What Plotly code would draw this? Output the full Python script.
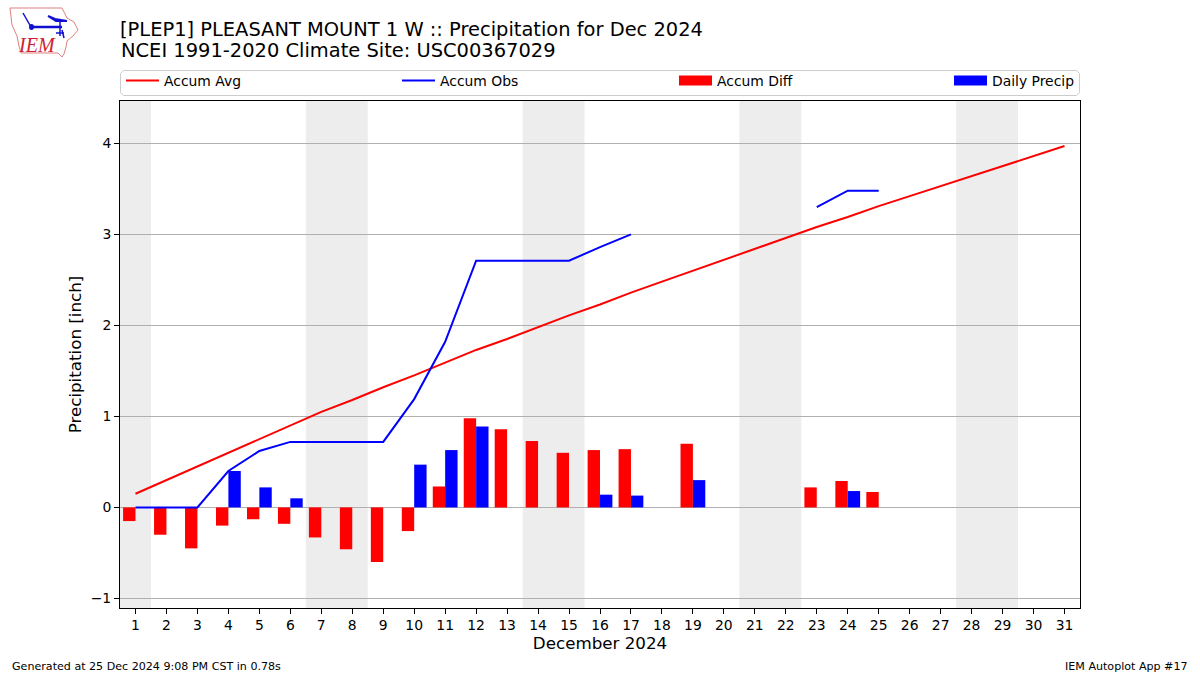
import plotly.graph_objects as go

days = list(range(1, 32))
accum_avg = [0.15,0.30,0.45,0.60,0.75,0.90,1.05,1.18,1.32,1.45,1.59,1.73,1.85,1.98,2.11,2.23,2.36,2.48,2.60,2.72,2.84,2.96,3.08,3.19,3.31,3.42,3.53,3.64,3.75,3.86,3.97]
accum_obs = [0,0,0,0.40,0.62,0.72,0.72,0.72,0.72,1.19,1.82,2.71,2.71,2.71,2.71,2.86,3.00,None,None,None,None,None,3.30,3.48,3.48,None,None,None,None,None,None]
accum_diff = [-0.15,-0.30,-0.45,-0.20,-0.13,-0.18,-0.33,-0.46,-0.60,-0.26,0.23,0.98,0.86,0.73,0.60,0.63,0.64,None,0.70,None,None,None,0.22,0.29,0.17,None,None,None,None,None,None]
daily = [0,0,0,0.40,0.22,0.10,0,0,0,0.47,0.63,0.89,0,0,0,0.14,0.13,0,0.30,0,0,0,0,0.18,0,None,None,None,None,None,None]
weekends = [(0.5,1.5),(6.5,8.5),(13.5,15.5),(20.5,22.5),(27.5,29.5)]
y_ticks = [-1,0,1,2,3,4]
title_1 = "[PLEP1] PLEASANT MOUNT 1 W :: Precipitation for Dec 2024"
title_2 = "NCEI 1991-2020 Climate Site: USC00367029"

L, R, T, B = 120, 120, 101, 67
W, H = 1200, 675
def px(x): return (x - L) / (W - L - R)
def py(y): return 1 - (y - T) / (H - T - B)
def path(pts, close=False):
    s = "M" + " L".join(f"{px(a):.5f},{py(b):.5f}" for a, b in pts)
    return s + (" Z" if close else "")

FONT = "DejaVu Sans"
fig = go.Figure()
fig.add_bar(x=days, y=accum_diff, width=0.4, offset=-0.4, marker=dict(color="#ff0000", line_width=0), showlegend=False, name="Accum Diff")
fig.add_bar(x=days, y=daily, width=0.4, offset=0, marker=dict(color="#0000ff", line_width=0), showlegend=False, name="Daily Precip")
fig.add_scatter(x=days, y=accum_avg, mode="lines", line=dict(color="#ff0000", width=2), name="Accum Avg", legend="legend")
fig.add_scatter(x=days, y=accum_obs, mode="lines", line=dict(color="#0000ff", width=2), name="Accum Obs", legend="legend2", connectgaps=False)
fig.add_scatter(x=[None], y=[None], mode="lines", line=dict(color="#ff0000", width=10), name="Accum Diff", legend="legend3")
fig.add_scatter(x=[None], y=[None], mode="lines", line=dict(color="#0000ff", width=10), name="Daily Precip", legend="legend4")

shapes = [dict(type="rect", xref="x", yref="paper", x0=a, x1=b, y0=0, y1=1, fillcolor="rgba(0,0,0,0.07)", line_width=0, layer="below") for a, b in weekends]
# legend frame
r = 3
shapes.append(dict(type="path", xref="paper", yref="paper", line=dict(color="#cccccc", width=1), fillcolor="white",
    path=path([(120.5+r,70.5),(1079.5-r,70.5),(1079.5,70.5+r),(1079.5,95.5-r),(1079.5-r,95.5),(120.5+r,95.5),(120.5,95.5-r),(120.5,70.5+r)], True), layer="below"))
# logo
shapes.append(dict(type="path", xref="paper", yref="paper", line=dict(color="#e08080", width=1),
    path=path([(10,8),(62,8),(65,14),(67,18),(74,22),(78,30),(73,36),(67,41),(66,47),(64,54),(62,57),(58,53),(21,53),(19,46),(17,36),(12,25)], True)))
for seg, w in [([(31,27),(62,27)],2.5),([(48,16),(56,21),(67,21),(55,19),(48,16)],2),([(23,13),(31,27)],1.5),([(60,21),(60,36)],1.5),([(56,33),(64,33)],1.5),([(62,30),(64,38)],1.5)]:
    shapes.append(dict(type="path", xref="paper", yref="paper", line=dict(color="#1010d0", width=w), path=path(seg)))
shapes.append(dict(type="circle", xref="paper", yref="paper", x0=px(29), x1=px(34), y0=py(30), y1=py(24), fillcolor="#1010d0", line_width=0))

annotations = [
    dict(text=title_2, x=px(120), y=py(51), xref="paper", yref="paper", xanchor="left", yanchor="middle", showarrow=False, xshift=-1, font=dict(family=FONT, size=19.45, color="black")),
    dict(text="Generated at 25 Dec 2024 9:08 PM CST in 0.78s", x=px(11), y=py(666), xref="paper", yref="paper", xanchor="left", yanchor="middle", xshift=-1, showarrow=False, font=dict(family=FONT, size=11.1, color="black")),
    dict(text="IEM Autoplot App #17", x=px(1189), y=py(666), xref="paper", yref="paper", xanchor="right", yanchor="middle", xshift=1, showarrow=False, font=dict(family=FONT, size=11.1, color="black")),
    dict(text="IEM", x=px(37), y=py(45), xref="paper", yref="paper", xanchor="center", yanchor="middle", showarrow=False, font=dict(family="Liberation Serif", size=20, color="#d02030", style="italic")),
]

def leg(x):
    return dict(x=px(x), y=py(97), xanchor="left", yanchor="bottom", bgcolor="rgba(0,0,0,0)", borderwidth=0,
                font=dict(family=FONT, size=13.9, color="black"), itemwidth=33)

fig.update_layout(
    width=W, height=H, autosize=False,
    margin=dict(l=L, r=R, t=T, b=B, pad=0),
    plot_bgcolor="white", paper_bgcolor="white",
    font=dict(family=FONT, size=13.9, color="black"),
    barmode="overlay", showlegend=True,
    title=dict(text=title_1, x=0, xref="paper", xanchor="left", y=1-29/H, yanchor="middle", font=dict(family=FONT, size=19.45, color="black")),
    xaxis=dict(range=[0.5,31.5], tickmode="array", tickvals=days, ticktext=[str(d) for d in days], ticks="outside", ticklen=5, tickcolor="black",
               showline=True, linecolor="black", linewidth=1, mirror=True, showgrid=False, zeroline=False, ticklabelstandoff=-1,
               title=dict(text="December 2024", font=dict(family=FONT, size=16.7), standoff=5), tickfont=dict(family=FONT, size=13.9)),
    yaxis=dict(range=[-1.105,4.465], tickmode="array", tickvals=y_ticks, ticktext=[str(v).replace("-","\u2212") for v in y_ticks], ticks="outside", ticklen=5, tickcolor="black",
               showline=True, linecolor="black", linewidth=1, mirror=True, showgrid=True, gridcolor="#b0b0b0", gridwidth=1, zeroline=False,
               title=dict(text="Precipitation [inch]", font=dict(family=FONT, size=16.7), standoff=4), tickfont=dict(family=FONT, size=13.9)),
    shapes=shapes, annotations=annotations,
    legend=leg(121), legend2=leg(397), legend3=leg(674), legend4=leg(949),
)
fig.write_html("out.html", config=dict(displayModeBar=False), post_script="document.body.style.margin='0';document.documentElement.style.overflow='hidden';")
